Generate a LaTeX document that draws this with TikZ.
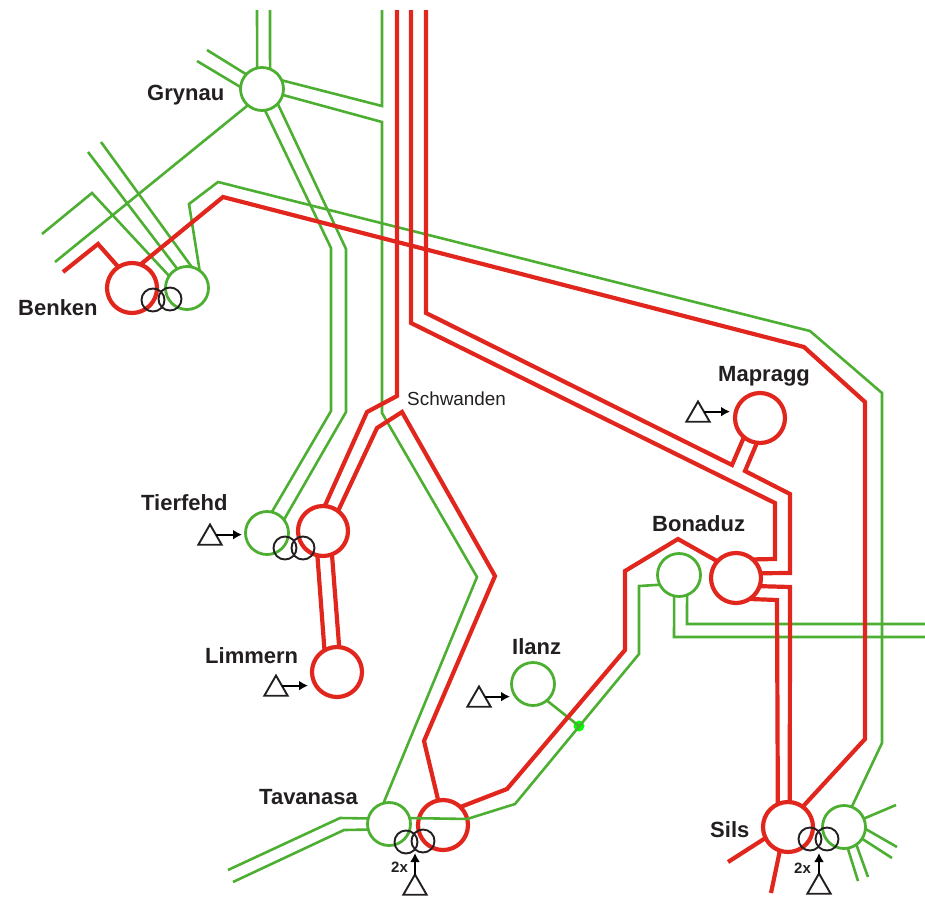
\documentclass[tikz,border=0pt]{standalone}
\usepackage{fontspec}
\setmainfont{Liberation Sans}
\usetikzlibrary{shapes.geometric,arrows.meta}
\definecolor{rd}{HTML}{E1271D}
\definecolor{gn}{HTML}{4DAF32}
\definecolor{ink}{HTML}{231F20}
\tikzset{
  redbus/.style={circle,draw=rd,line width=4.2pt,minimum size=#1,inner sep=0pt,outer sep=0pt},
  redbus/.default=50pt,
  greenbus/.style={circle,draw=gn,line width=2.8pt,minimum size=43pt,inner sep=0pt,outer sep=0pt},
  xfmr/.style={circle,draw=ink,line width=1.9pt,minimum size=23pt,inner sep=0pt,outer sep=0pt},
  gen/.style={regular polygon,regular polygon sides=3,draw=ink,line width=1.9pt,minimum size=27pt,inner sep=0pt,outer sep=0pt},
  redline/.style={draw=rd,line width=4.2pt,miter limit=8},
  greenline/.style={draw=gn,line width=2.6pt,miter limit=8},
  feed/.style={draw=black,line width=1.9pt,-{Latex[length=9pt,width=10pt]}},
  station/.style={anchor=base west,inner sep=0pt,text=ink,font=\fontsize{22}{22}\selectfont\bfseries},
  plain/.style={anchor=base west,inner sep=0pt,text=ink,font=\fontsize{18.9}{18.9}\selectfont},
  mult/.style={anchor=base west,inner sep=0pt,text=ink,font=\fontsize{15}{15}\selectfont\bfseries},
}
\begin{document}
\begin{tikzpicture}[x=1pt,y=-1pt]
\useasboundingbox (0,0) rectangle (925,897);
% stations
\node[greenbus] (gr) at (262,89) {};
\node[redbus] (br) at (132,288) {};
\node[greenbus] (bg) at (187,288) {};
\node[greenbus] (tg) at (267,533) {};
\node[redbus] (tr) at (323,531) {};
\node[redbus] (li) at (337,672) {};
\node[greenbus] (il) at (533,684) {};
\node[greenbus] (tvg) at (389,824) {};
\node[redbus] (tvr) at (443,825) {};
\node[greenbus] (bog) at (679,575) {};
\node[redbus] (bor) at (736,578) {};
\node[redbus] (ma) at (760,418) {};
\node[redbus] (sr) at (788,827) {};
\node[greenbus] (sg) at (844,827) {};
\node[circle,fill=green,inner sep=0pt,minimum size=11pt] (dot) at (579,726) {};
% free ends
\coordinate (t1) at (257,10); \coordinate (t2) at (270,10);
\coordinate (t3) at (382,10); \coordinate (t4) at (397,10);
\coordinate (t5) at (411,10); \coordinate (t6) at (426,10);
% green lines
\draw[greenline] (t1) -- (gr.103);
\draw[greenline] (t2) -- (gr.68);
\draw[greenline] (207,50) -- (gr.137);
\draw[greenline] (197,61) -- (gr.175);
\draw[greenline] (t3) -- (382,106) -- (gr.24);
\draw[greenline] (gr.-16) -- (382,122) -- (382,413) -- (477,577) -- (422,710) -- (tvg.105);
\draw[greenline] (gr.-82) -- (331,248) -- (331,411) -- (tg.77);
\draw[greenline] (gr.-43) -- (346,249) -- (346,412) -- (tg.38);
\draw[greenline] (gr.229) -- (55,262);
\draw[greenline] (42,234) -- (92,193) -- (bg.146);
\draw[greenline] (88,152) -- (bg.117);
\draw[greenline] (101,142) -- (bg.77);
\draw[greenline] (bg.54) -- (189,204) -- (218,182) -- (810,331) -- (882,393) -- (882,743) -- (sg.69);
\draw[greenline] (228,870) -- (340,818) -- (tvg.165);
\draw[greenline] (233,882) -- (344,830) -- (tvg.195);
\draw[greenline] (tvg.16) -- (tvr.14) -- (515,804) -- (639,654) -- (639,586) -- (bog.207);
\draw[greenline] (bog.257) -- (674,637) -- (925,637);
\draw[greenline] (bog.292) -- (687,624) -- (925,624);
\draw[greenline] (il.-50) -- (dot.center);
\draw[greenline] (sg.23) -- (896,805);
\draw[greenline] (sg.-5) -- (897,847);
\draw[greenline] (sg.-33) -- (892,858);
\draw[greenline] (sg.-55) -- (868,877);
\draw[greenline] (sg.-80) -- (858,881);
% red lines
\draw[redline] (63,272) -- (98,244) -- (br.123);
\draw[redline] (br.70) -- (223,197) -- (804,347) -- (865,402) -- (865,739) -- (sr.54);
\draw[redline] (t4) -- (397,396) -- (367,412) -- (tr.86);
\draw[redline] (t5) -- (411,323) -- (775,503) -- (775,559) -- (bor.48);
\draw[redline] (t6) -- (426,313) -- (732,465) -- (ma.230);
\draw[redline] (ma.263) -- (745,471) -- (790,494) -- (790,573) -- (bor.11);
\draw[redline] (tr.53) -- (377,428) -- (402,412) -- (495,576) -- (424,741) -- (tvr.101);
\draw[redline] (tr.257) -- (li.120);
\draw[redline] (tr.291) -- (li.85);
\draw[redline] (tvr.46) -- (507,789) -- (625,650) -- (625,571) -- (678,539) -- (bor.138);
\draw[redline] (bor.-19) -- (790,587) -- (sr.86);
\draw[redline] (bor.-57) -- (777,600) -- (sr.114);
\draw[redline] (sr.206) -- (728,862);
\draw[redline] (sr.251) -- (771,893);
% transformers
\node[xfmr] (bx1) at (153,300) {};
\node[xfmr] (bx2) at (170,299) {};
\node[xfmr] (tx1) at (285,548) {};
\node[xfmr] (tx2) at (303,548) {};
\node[xfmr] (vx1) at (406,842) {};
\node[xfmr] (vx2) at (423,841) {};
\node[xfmr] (sx1) at (810,839) {};
\node[xfmr] (sx2) at (827,839) {};
% generators
\node[gen] (g1) at (210,538) {};
\node[gen] (g2) at (276,689) {};
\node[gen] (g3) at (479,700) {};
\node[gen] (g4) at (698,415) {};
\node[gen] (g5) at (415,888) {};
\node[gen] (g6) at (819,887) {};
\draw[feed,shorten >=3.5pt] (g1.30) -- (g1.30 -| tg.west);
\draw[feed,shorten >=4pt] (g2.30) -- (g2.30 -| li.west);
\draw[feed,shorten >=1.5pt] (g3.30) -- (g3.30 -| il.west);
\draw[feed,shorten >=5pt] (g4.30) -- (g4.30 -| ma.west);
\draw[feed] (g5.90) -- (415,853);
\draw[feed] (g6.90) -- (819,853);
% labels
\node[station] (lgr) at (147,100) {Grynau};
\node[station] (lbe) at (18,315) {Benken};
\node[station] (lti) at (141,510) {Tierfehd};
\node[station] (lli) at (205,663) {Limmern};
\node[station] (lta) at (259,804) {Tavanasa};
\node[station] (lsi) at (710,837) {Sils};
\node[station] (lbo) at (652,531) {Bonaduz};
\node[station] (lma) at (718,381) {Mapragg};
\node[station] (lil) at (512,654) {Ilanz};
\node[plain] (lsc) at (407,405) {Schwanden};
\node[mult] (lx1) at (391,872) {2x};
\node[mult] (lx2) at (794,873) {2x};
\end{tikzpicture}
\end{document}
